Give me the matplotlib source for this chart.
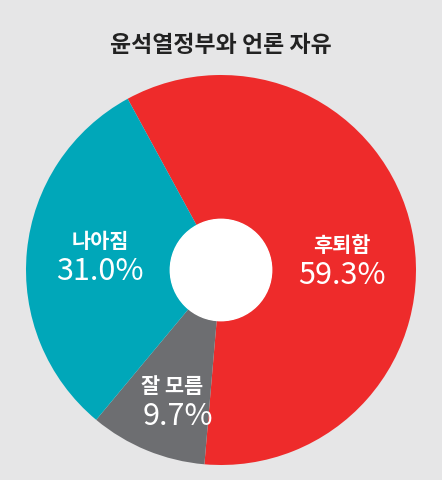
import matplotlib
matplotlib.use("Agg")
import matplotlib.pyplot as plt

plt.rcParams['font.family'] = ['Noto Sans CJK KR', 'DejaVu Sans']

labels = ['후퇴함', '잘 모름', '나아짐']
values = [59.3, 9.7, 31.0]
colors = ['#ee2b2b', '#6d6e71', '#00a7b9']
label_pos = [(0.62, 0.07), (-0.25, -0.65), (-0.62, 0.09)]

fig = plt.figure(figsize=(4.42, 4.8), dpi=100)
fig.patch.set_facecolor('#e6e6e7')
ax = fig.add_axes([26 / 442, 15 / 480, 390 / 442, 390 / 480])
ax.pie(values, colors=colors, startangle=118.6, counterclock=False,
       wedgeprops=dict(width=0.74, edgecolor='none'), radius=1)
ax.add_patch(plt.Circle((0, 0), 0.26, color='white', zorder=3))

for lab, val, (x, y) in zip(labels, values, label_pos):
    ax.text(x, y, lab, ha='center', va='bottom', color='white',
            fontsize=15, fontweight='bold')
    ax.text(x + (0.03 if lab == '잘 모름' else 0), y - 0.02, f'{val:.1f}%',
            ha='center', va='top', color='white', fontsize=22, fontweight='medium')

ax.set_xlim(-1, 1)
ax.set_ylim(-1, 1)
ax.set_aspect('equal')
ax.axis('off')

fig.text(0.5, 1 - 45 / 480, '윤석열정부와 언론 자유', ha='center', va='center',
         fontsize=16.5, fontweight='bold', color='#222222')

fig.savefig('out.png', dpi=100, facecolor=fig.get_facecolor())
